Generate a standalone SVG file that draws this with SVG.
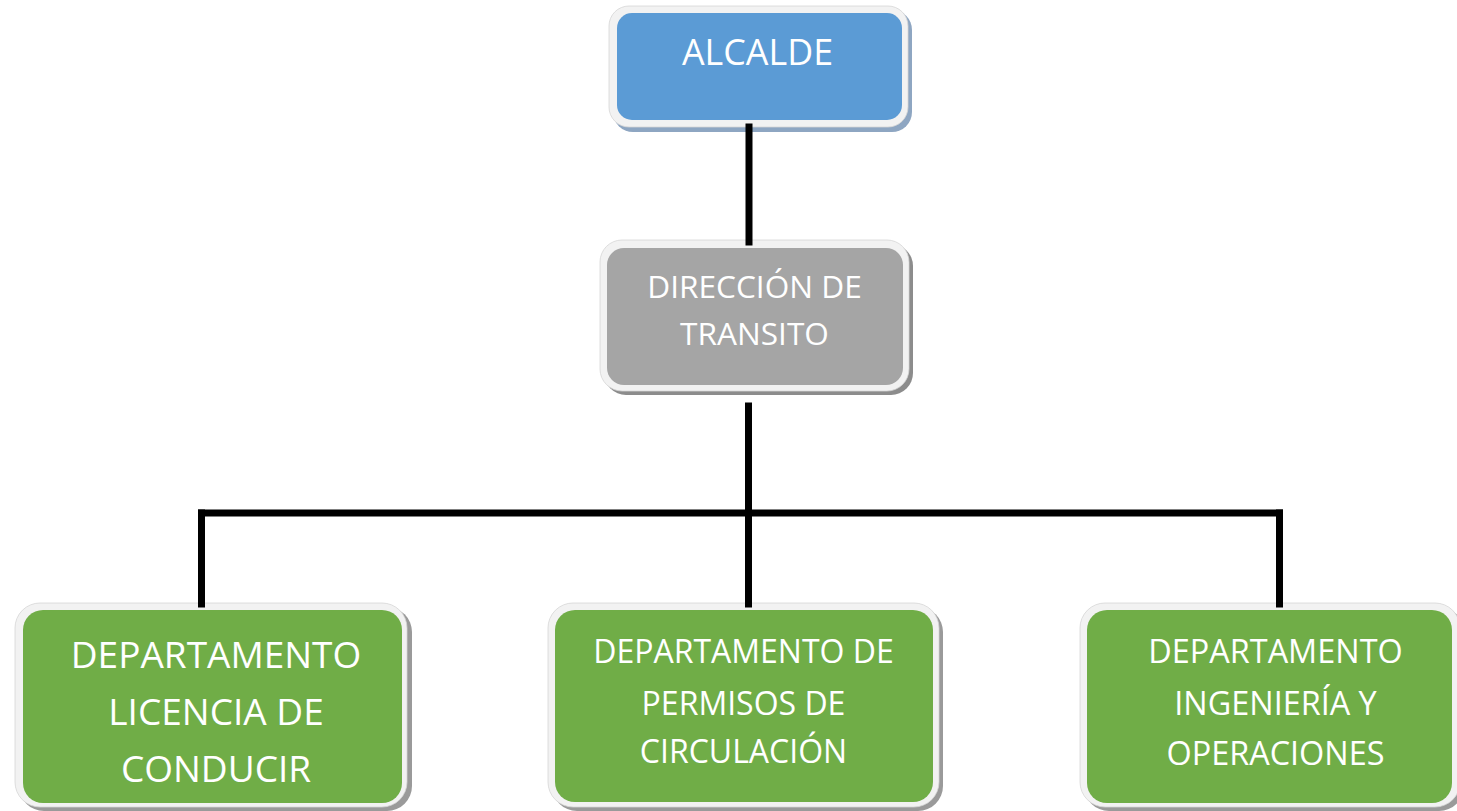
<svg xmlns="http://www.w3.org/2000/svg" width="1457" height="811" viewBox="0 0 1457 811">
<style>
.frame{fill:#f2f2f2;stroke:#d6d6d6;stroke-width:0.8}
.t{font-family:"Open Sans","Noto Sans","Liberation Sans",sans-serif;fill:#ffffff;text-anchor:middle}
.c{stroke:#000000;stroke-width:7;fill:none;stroke-linecap:square}
</style>
<rect width="1457" height="811" fill="#ffffff"/>
<g id="alcalde">
<rect x="613" y="10" width="299" height="122" rx="20" fill="#8ea6c2"/>
<rect class="frame" x="609" y="6" width="299" height="121" rx="20"/>
<rect x="617" y="13" width="285" height="107" rx="15" fill="#5b9bd5"/>
<text class="t" x="757.5" y="65" font-size="35.8">ALCALDE</text>
</g>
<g id="direccion">
<rect x="604" y="244" width="309" height="151" rx="22" fill="#8c8c8c"/>
<rect class="frame" x="600" y="240" width="309" height="151" rx="22"/>
<rect x="607" y="248" width="296" height="137" rx="17" fill="#a5a5a5"/>
<text class="t" x="754.5" y="298" font-size="31.6">DIRECCIÓN DE</text>
<text class="t" x="754.5" y="345" font-size="31.6">TRANSITO</text>
</g>
<g id="dep-licencia">
<rect x="19" y="607" width="393" height="204" rx="25" fill="#9a9a9a"/>
<rect class="frame" x="15" y="603" width="392" height="204" rx="25"/>
<rect x="23" y="610" width="379" height="193" rx="20" fill="#70ad47"/>
<text class="t" x="216" y="668" font-size="37">DEPARTAMENTO</text>
<text class="t" x="216" y="725" font-size="37">LICENCIA DE</text>
<text class="t" x="216" y="782" font-size="37">CONDUCIR</text>
</g>
<g id="dep-permisos">
<rect x="552" y="607" width="391" height="204" rx="25" fill="#9a9a9a"/>
<rect class="frame" x="548" y="603" width="391" height="204" rx="25"/>
<rect x="555" y="610" width="378" height="192" rx="20" fill="#70ad47"/>
<text class="t" x="743.5" y="663" font-size="32">DEPARTAMENTO DE</text>
<text class="t" x="743.5" y="715" font-size="32">PERMISOS DE</text>
<text class="t" x="743.5" y="763" font-size="32">CIRCULACIÓN</text>
</g>
<g id="dep-ingenieria">
<rect x="1084" y="607" width="380" height="204" rx="25" fill="#9a9a9a"/>
<rect class="frame" x="1080" y="603" width="380" height="204" rx="25"/>
<rect x="1087" y="610" width="365" height="193" rx="20" fill="#70ad47"/>
<text class="t" x="1275.5" y="663" font-size="32.4">DEPARTAMENTO</text>
<text class="t" x="1275.5" y="715" font-size="32.4">INGENIERÍA Y</text>
<text class="t" x="1275.5" y="765" font-size="32.4">OPERACIONES</text>
</g>
<g id="connectors">
<line class="c" x1="749" y1="127" x2="749" y2="242"/>
<line class="c" x1="748.5" y1="406" x2="748.5" y2="604"/>
<line class="c" x1="201.5" y1="513" x2="1279.5" y2="513"/>
<line class="c" x1="201.5" y1="513" x2="201.5" y2="604"/>
<line class="c" x1="1279.5" y1="513" x2="1279.5" y2="604"/>
</g>
</svg>
